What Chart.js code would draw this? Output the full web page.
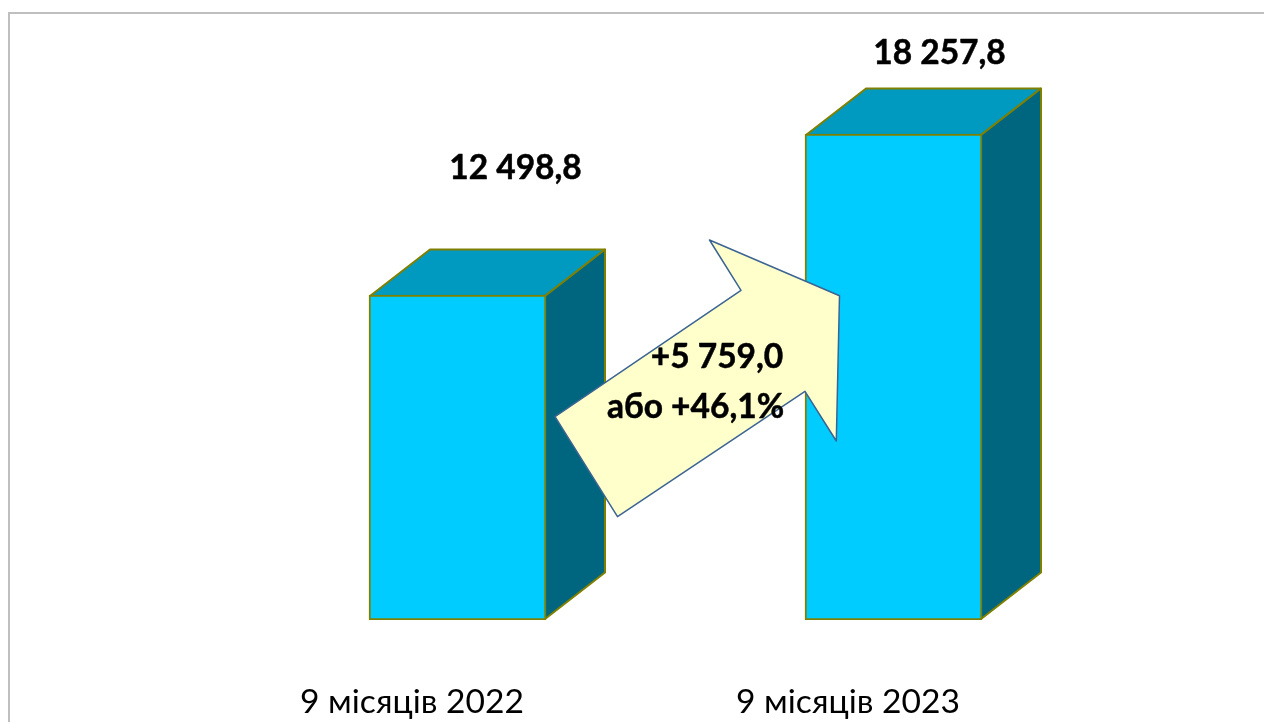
<!DOCTYPE html>
<html lang="uk">
<head>
<meta charset="utf-8">
<title>Chart</title>
<script src="https://cdn.jsdelivr.net/npm/chart.js@4"></script>
<style>
html,body{margin:0;padding:0;background:#fff;overflow:hidden;width:1264px;height:722px}
#frame{position:absolute;left:8px;top:12px;width:1400px;height:900px;border:2px solid #bfbfbf;box-sizing:border-box}
#wrap{position:absolute;left:0;top:0;width:1264px;height:722px}
</style>
</head>
<body>
<div id="frame"></div>
<div id="wrap"><canvas id="c" width="1264" height="722"></canvas></div>
<script>
const categories = ['9 місяців 2022', '9 місяців 2023'];
const seriesValues = [12498.8, 18257.8];
const valueLabels = ['12 498,8', '18 257,8'];
const calloutLines = ['+5 759,0', 'або +46,1%'];

const FONT = 'Lato, "Noto Sans", sans-serif';
const COLORS = { front:'#00ccff', top:'#0099bf', side:'#006680', edge:'#808000', arrow:'#ffffcc', arrowEdge:'#3b6492' };
const DEPTH = { x:60, y:46.5 };
// value-label anchor relative to each bar's front-face centre and top
const LABEL_OFFSET = [{x:58,y:-127},{x:46,y:-81}];

const box3d = {
  id:'box3d',
  beforeDatasetsDraw(chart){
    const ctx = chart.ctx;
    chart.getDatasetMeta(0).data.forEach(bar=>{
      const p = bar.getProps(['x','y','base','width'],true);
      const l = p.x-p.width/2+1, r = p.x+p.width/2-1, t = p.y+1, b = p.base-1;
      ctx.save();
      ctx.lineWidth = 2; ctx.strokeStyle = COLORS.edge; ctx.lineJoin='round';
      ctx.fillStyle = COLORS.top;
      ctx.beginPath(); ctx.moveTo(l,t); ctx.lineTo(l+DEPTH.x,t-DEPTH.y); ctx.lineTo(r+DEPTH.x,t-DEPTH.y); ctx.lineTo(r,t); ctx.closePath(); ctx.fill(); ctx.stroke();
      ctx.fillStyle = COLORS.side;
      ctx.beginPath(); ctx.moveTo(r,t); ctx.lineTo(r+DEPTH.x,t-DEPTH.y); ctx.lineTo(r+DEPTH.x,b-DEPTH.y); ctx.lineTo(r,b); ctx.closePath(); ctx.fill(); ctx.stroke();
      ctx.restore();
    });
  },
  afterDatasetsDraw(chart){
    const ctx = chart.ctx;
    const pts = [[555,416.7],[741,290.3],[709.5,240],[839.5,295.7],[836.3,441],[805,391.3],[617.5,516.7]];
    ctx.save();
    ctx.beginPath(); pts.forEach((q,i)=> i?ctx.lineTo(q[0],q[1]):ctx.moveTo(q[0],q[1])); ctx.closePath();
    ctx.fillStyle = COLORS.arrow; ctx.fill();
    ctx.lineWidth = 1.5; ctx.strokeStyle = COLORS.arrowEdge; ctx.lineJoin='round'; ctx.stroke();

    ctx.fillStyle = '#000'; ctx.strokeStyle='#000'; ctx.lineWidth=0.5; ctx.textAlign='center'; ctx.textBaseline='middle';
    ctx.font = 'bold 33.5px '+FONT;
    const put = (s,x,y)=>{ctx.fillText(s,x,y);ctx.strokeText(s,x,y);};
    put(calloutLines[0], 717, 357);
    put(calloutLines[1], 695.5, 407);
    chart.getDatasetMeta(0).data.forEach((bar,i)=>{
      put(valueLabels[i], bar.x+LABEL_OFFSET[i].x, bar.y+LABEL_OFFSET[i].y);
    });
    ctx.restore();
  }
};

new Chart(document.getElementById('c'),{
  type:'bar',
  data:{
    labels:categories,
    datasets:[{
      data:seriesValues,
      base:875,
      backgroundColor:COLORS.front,
      borderColor:COLORS.edge,
      borderWidth:2,
      borderSkipped:false,
      barThickness:177
    }]
  },
  options:{
    responsive:false,
    animation:false,
    devicePixelRatio:1,
    layout:{padding:{left:239.5,right:152.5,top:20,bottom:0}},
    plugins:{legend:{display:false},title:{display:false},tooltip:{enabled:false}},
    scales:{
      x:{
        grid:{display:false,drawTicks:false},
        border:{display:false},
        afterFit(s){s.height=102;},
        ticks:{
          labelOffset:-45.5,
          padding:62,
          maxRotation:0,
          autoSkip:false,
          color:'#000',
          font:{family:FONT,size:33.6}
        }
      },
      y:{display:false,min:875,max:22335}
    }
  },
  plugins:[box3d]
});
</script>
</body>
</html>
